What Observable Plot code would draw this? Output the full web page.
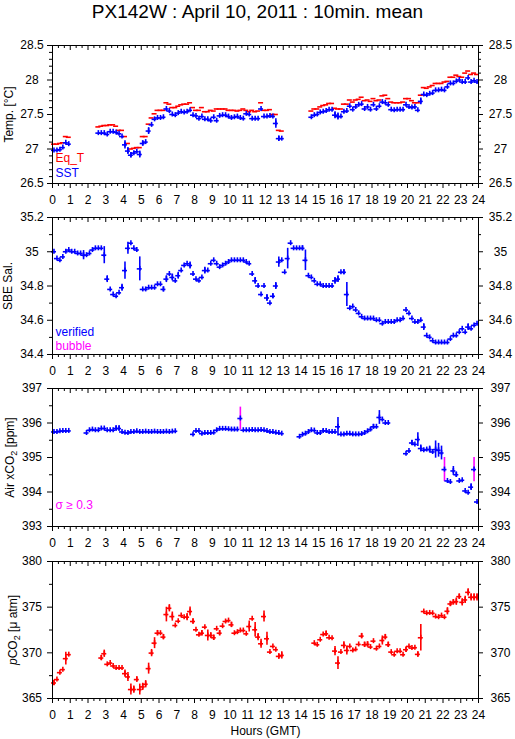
<!DOCTYPE html>
<html><head><meta charset="utf-8">
<script src="https://cdn.jsdelivr.net/npm/d3@7"></script>
<script src="https://cdn.jsdelivr.net/npm/@observablehq/plot@0.6"></script>
<style>
body{margin:0;background:#fff;}
#wrap{position:relative;width:515px;height:739px;background:#fff;overflow:hidden;font-family:"Liberation Sans",Arial,Helvetica,sans-serif}
#title{position:absolute;left:0;top:1px;width:515px;text-align:center;font-size:19px;line-height:22px;color:#000}
.panel{position:absolute;left:0;}
</style></head><body>
<div id="wrap"><div id="title">PX142W : April 10, 2011 : 10min. mean</div></div>
<script>
// ---------- tick labels ----------
const hourTicks = [0,1,2,3,4,5,6,7,8,9,10,11,12,13,14,15,16,17,18,19,20,21,22,23,24];
const tempTicks = [26.5,27,27.5,28,28.5];
const tempMinor = [26.6,26.7,26.8,26.9,27.1,27.2,27.3,27.4,27.6,27.7,27.8,27.9,28.1,28.2,28.3,28.4];
const salTicks = [34.4,34.6,34.8,35,35.2];
const salMinor = [34.5,34.7,34.9,35.1];
const xco2Ticks = [393,394,395,396,397];
const xco2Minor = [393.5,394.5,395.5,396.5];
const pco2Ticks = [365,370,375,380];
const pco2Minor = [367.5,372.5,377.5];

// ---------- 10-minute series (144 slots, null = no data) ----------
const eqT = [27.07,27.07,27.08,27.09,27.18,27.17,
 null,null,null,null,null,null,null,null,null,
 27.32,27.33,27.34,27.34,27.35,27.35,27.33,27.27,27.27,27.18,
 27.08,27.00,27.01,27.02,27.02,27.18,27.18,27.36,27.45,27.51,
 27.56,27.56,27.56,27.67,27.65,27.60,27.60,27.62,27.64,27.65,
 27.65,27.67,27.60,27.56,27.56,27.60,27.54,27.54,27.56,27.55,
 27.58,27.58,27.58,27.58,27.56,27.56,27.56,27.55,27.56,27.58,
 27.56,27.54,27.56,27.54,27.55,27.67,27.56,27.56,27.57,27.50,
 27.50,27.27,27.26,
 null,null,null,null,null,null,null,null,null,
 27.55,27.58,27.58,27.61,27.63,27.64,27.66,27.66,27.59,27.58,
 27.58,27.65,27.65,27.71,27.68,27.71,27.72,27.75,27.70,27.71,
 27.69,27.73,27.70,27.71,27.77,27.78,27.73,27.68,27.67,27.67,
 27.67,27.68,27.73,27.73,27.70,27.67,27.67,27.78,27.89,27.88,
 27.90,27.92,27.95,27.95,27.95,27.97,27.98,28.04,28.04,28.07,
 28.05,28.04,28.10,28.13,28.08,28.10,28.08];

const sst = [26.98,26.98,26.99,27.02,27.09,27.07,
 null,null,null,null,null,null,null,null,null,
 27.23,27.23,27.23,27.21,27.25,27.25,27.24,27.22,27.18,27.06,
 26.97,26.91,26.94,26.96,26.92,27.08,27.10,27.26,27.35,27.43,
 27.45,27.45,27.46,27.58,27.55,27.50,27.49,27.52,27.54,27.53,
 27.54,27.56,27.49,27.48,27.44,27.47,27.43,27.43,27.41,27.46,
 27.41,27.48,27.49,27.49,27.47,27.45,27.46,27.47,27.45,27.44,
 27.51,27.50,27.44,27.44,27.44,27.58,27.47,27.47,27.48,27.47,
 27.37,27.15,27.15,
 null,null,null,null,null,null,null,null,null,
 27.46,27.49,27.50,27.53,27.54,27.55,27.57,27.57,27.49,27.47,
 27.47,27.54,27.55,27.62,27.57,27.61,27.64,27.65,27.58,27.61,
 27.57,27.64,27.58,27.62,27.68,27.67,27.64,27.57,27.56,27.57,
 27.57,27.57,27.64,27.61,27.60,27.61,27.56,27.69,27.79,27.78,
 27.80,27.81,27.85,27.85,27.86,27.85,27.90,27.95,27.95,27.98,
 28.00,27.97,27.97,28.03,27.97,27.99,27.97];
const sstErr = [[24,0.06],[25,0.05],[26,0.04],[29,0.05],[30,0.04],[32,0.05],[75,0.07],[76,0.04],[95,0.05],[96,0.05],[124,0.05]];

const sal = [35.00,34.96,34.95,34.97,35.00,35.01,35.00,35.00,34.99,34.99,34.98,34.98,
 34.99,35.01,35.02,35.02,35.02,34.98,34.84,34.78,34.75,34.74,34.76,34.79,
 34.89,35.02,35.05,35.02,35.01,34.90,34.78,34.78,34.79,34.79,34.79,34.81,
 34.81,34.78,34.84,34.87,34.85,34.83,34.86,34.89,34.92,34.93,34.92,34.87,
 34.84,34.83,34.85,34.89,34.89,34.93,34.95,34.93,34.91,34.92,34.93,34.94,
 34.95,34.95,34.95,34.95,34.95,34.94,34.93,34.87,34.83,34.80,34.75,34.80,
 34.73,34.70,34.74,34.80,34.94,34.95,34.88,34.96,35.05,35.02,35.02,35.02,
 35.02,34.95,34.86,34.85,34.83,34.81,34.81,34.80,34.80,34.80,34.80,34.83,
 34.84,34.88,34.88,34.75,34.67,34.68,34.66,34.64,34.62,34.61,34.61,34.61,
 34.61,34.60,34.60,34.58,34.59,34.59,34.59,34.59,34.60,34.60,34.61,34.66,
 34.64,34.61,34.59,34.59,34.60,34.56,34.51,34.50,34.48,34.47,34.47,34.47,
 34.47,34.47,34.49,34.51,34.51,34.53,34.55,34.53,34.56,34.55,34.57,34.58];
const salErr = [[10,0.027],[17,0.05],[18,0.02],[23,0.02],[24,0.05],[25,0.035],[29,0.07],[37,0.015],[38,0.02],[40,0.02],[42,0.02],[46,0.02],[51,0.02],[68,0.02],[72,0.02],[74,0.015],[75,0.02],[76,0.03],[79,0.06],[84,0.015],[85,0.06],[95,0.02],[96,0.02],[98,0.015],[99,0.07],[125,0.02],[140,0.02]];

const xco2 = [395.74,395.74,395.76,395.77,395.77,395.77,null,null,null,null,null,395.71,
 395.79,395.81,395.79,395.79,395.84,395.84,395.79,395.79,395.79,395.84,395.84,395.74,
 395.72,395.71,395.74,395.74,395.76,395.74,395.74,395.75,395.74,395.74,395.75,395.74,
 395.74,395.74,395.75,395.74,395.75,395.76,null,null,null,null,null,395.67,
 395.77,395.77,395.69,395.71,395.71,395.71,395.72,395.79,395.83,395.83,395.83,395.82,
 395.81,395.81,395.81,396.13,395.79,395.79,395.79,395.80,395.79,395.79,395.80,395.79,
 395.77,395.74,395.74,395.72,395.71,395.69,null,null,null,null,null,395.60,
 395.66,395.69,395.74,395.79,395.78,395.71,395.71,395.77,395.77,395.74,395.74,395.74,
 395.89,395.67,395.67,395.69,395.69,395.67,395.67,395.67,395.68,395.71,395.76,395.81,
 395.89,395.89,396.16,396.10,396.00,396.00,null,null,null,null,null,395.11,
 395.19,395.42,395.38,395.52,395.26,395.21,395.23,395.23,395.16,395.23,395.21,395.13,
 394.65,394.32,394.29,394.61,394.50,394.32,394.34,394.03,393.98,394.14,394.65,393.71];
const xco2Err = [[21,0.08],[22,0.08],[91,0.05],[96,0.27],[107,0.05],[108,0.07],[110,0.2],[121,0.08],[123,0.2],[124,0.1],[127,0.1],[129,0.25],[130,0.2],[131,0.2],[135,0.13],[136,0.08],[141,0.1]];
const xco2Flag = [[63,0.33],[132,0.35],[142,0.35]]; // sigma >= 0.3

const pco2 = [366.70,367.07,367.83,368.16,369.36,369.80,null,null,null,null,null,null,
 null,null,null,null,369.43,369.90,368.74,368.88,368.56,368.34,368.34,368.34,
 367.72,367.36,365.98,365.98,367.07,365.98,366.27,366.56,368.27,369.97,371.06,372.15,
 372.15,371.72,374.19,374.88,373.97,372.99,373.46,374.08,373.90,373.90,374.52,373.43,
 372.52,371.97,372.15,372.81,371.90,371.90,371.65,372.63,372.15,372.92,373.43,373.53,
 373.06,372.15,372.26,372.44,372.44,372.08,372.88,373.72,372.52,371.72,370.99,373.97,
 371.54,370.08,370.70,370.34,369.61,369.72,null,null,null,null,null,null,
 null,null,null,null,371.06,370.88,371.43,372.00,372.08,371.65,371.61,370.19,
 368.88,370.08,370.81,370.26,370.70,370.26,370.37,370.92,371.83,370.88,370.92,370.63,
 371.28,370.45,370.70,371.35,371.72,370.88,370.08,369.79,370.16,370.16,369.79,370.34,
 370.70,370.52,370.56,369.83,371.65,374.52,374.33,374.37,374.33,373.97,373.90,374.08,
 373.90,374.55,375.35,375.53,375.60,376.15,375.53,375.79,376.62,376.08,376.08,376.08];
const pco2Err = [[0,.3],[4,.7],[16,.3],[17,.4],[24,.4],[25,.5],[26,.6],[27,.4],[28,.3],[29,.6],[30,.4],[31,.4],[32,.6],[33,.4],[34,.6],[35,.3],[37,.3],[38,.8],[39,.4],[40,.5],[45,.4],[46,.5],[47,.3],[50,.3],[52,.6],[53,.3],[54,.3],[56,.3],[60,.3],[66,.6],[68,.8],[69,.4],[70,.5],[71,.6],[72,.7],[76,.3],[77,.4],[92,.3],[95,.5],[96,.7],[98,.4],[99,.5],[104,.3],[105,.3],[106,.3],[111,.5],[112,.3],[113,.3],[119,.3],[123,.3],[124,1.45],[133,.4],[134,.3],[135,.3],[136,.4],[137,.3],[138,.4],[139,.4],[140,.4],[141,.4],[142,.4],[143,.4]];

// ---------- helpers ----------
const FONT = '"Liberation Sans", Arial, Helvetica, sans-serif';
const BLUE = "#0000ff", RED = "#ff0000", MAGENTA = "#ff00ff";
const slotHour = i => (i + 0.5) / 6;
const minorHours = d3.range(0, 72).map(k => k / 3).filter(h => h % 1 !== 0);
const rowsOf = vals => vals.map((v, i) => ({t: slotHour(i), v})).filter(d => d.v != null);
const errRows = (vals, errs) => errs.map(([i, e]) => ({t: slotHour(i), v: vals[i], e}));

const HALF = 2.5, SW = 1.6;
function hbar(rows, color) {
  return Plot.ruleY(rows, {x1: "t", x2: "t", y: "v", insetLeft: -HALF, insetRight: -HALF, stroke: color, strokeWidth: SW});
}
function vbar(rows, color) {
  return Plot.ruleX(rows, {x: "t", y1: "v", y2: "v", insetTop: -HALF, insetBottom: -HALF, stroke: color, strokeWidth: SW});
}
function ebar(rows, color) {
  return Plot.ruleX(rows, {x: "t", y1: d => d.v - d.e, y2: d => d.v + d.e, stroke: color, strokeWidth: SW});
}
function cross(rows, color) { return [hbar(rows, color), vbar(rows, color)]; }

function panel({top, frameH, yDomain, yTicks, yMinor, yFmt, yLabel, labelDx, marks, legend = [], extra = [], mb = 32}) {
  const mt = 8;
  const [y0, y1] = yDomain;
  const svg = Plot.plot({
    width: 515, height: mt + frameH + mb,
    marginLeft: 52, marginRight: 37, marginTop: mt, marginBottom: mb,
    style: {fontFamily: FONT, fontSize: "12px", background: "transparent", overflow: "visible", color: "black"},
    x: {domain: [0, 24], axis: null},
    y: {domain: yDomain, axis: null},
    marks: [
      ...marks,
      Plot.frame({stroke: "black", strokeWidth: 1}),
      // x ticks: bottom outward, top inward
      Plot.ruleX(hourTicks, {x: d => d, y1: () => y0, y2: () => y0, insetBottom: -5, stroke: "black"}),
      Plot.ruleX(minorHours, {x: d => d, y1: () => y0, y2: () => y0, insetBottom: -3, stroke: "black"}),
      Plot.ruleX(hourTicks, {x: d => d, y1: () => y1, y2: () => y1, insetBottom: -5, stroke: "black"}),
      Plot.ruleX(minorHours, {x: d => d, y1: () => y1, y2: () => y1, insetBottom: -3, stroke: "black"}),
      // y ticks: outward both sides
      Plot.ruleY(yTicks, {y: d => d, x1: () => 0, x2: () => 0, insetLeft: -5, stroke: "black"}),
      Plot.ruleY(yMinor, {y: d => d, x1: () => 0, x2: () => 0, insetLeft: -3, stroke: "black"}),
      Plot.ruleY(yTicks, {y: d => d, x1: () => 24, x2: () => 24, insetRight: -5, stroke: "black"}),
      Plot.ruleY(yMinor, {y: d => d, x1: () => 24, x2: () => 24, insetRight: -3, stroke: "black"}),
      // labels
      Plot.text(hourTicks, {x: d => d, text: d => String(d), frameAnchor: "bottom", dy: 17, lineAnchor: "middle", fill: "black"}),
      Plot.text(yTicks, {y: d => d, text: yFmt, frameAnchor: "left", dx: -20.5, textAnchor: "middle", fill: "black"}),
      Plot.text(yTicks, {y: d => d, text: yFmt, frameAnchor: "right", dx: 22, textAnchor: "middle", fill: "black"}),
      Plot.text([yLabel], {text: d => d, frameAnchor: "left", rotate: -90, dx: labelDx, textAnchor: "middle", fill: "black"}),
      ...legend.map(([s, c, dy]) => Plot.text([s], {text: d => d, frameAnchor: "bottom-left", dx: 3, dy, textAnchor: "start", lineAnchor: "middle", fill: c})),
      ...extra
    ]
  });
  svg.classList.add("panel");
  svg.style.top = (top - mt) + "px";
  document.getElementById("wrap").appendChild(svg);
  return svg;
}

function richText(svg, plain, parts) {
  for (const t of svg.querySelectorAll("text")) {
    if (t.textContent === plain) {
      t.textContent = "";
      for (const p of parts) {
        const s = document.createElementNS("http://www.w3.org/2000/svg", "tspan");
        s.textContent = p.s;
        if (p.italic) s.setAttribute("font-style", "italic");
        if (p.sub) { s.setAttribute("font-size", "9"); s.setAttribute("dy", "3"); }
        if (p.up) s.setAttribute("dy", "-3");
        t.appendChild(s);
      }
    }
  }
}

const f1 = d => d % 1 === 0 ? String(d) : d.toFixed(1);

// Panel 1: temperature
panel({
  top: 45, frameH: 138, yDomain: [26.5, 28.5], yTicks: tempTicks, yMinor: tempMinor, yFmt: f1,
  yLabel: "Temp. [°C]", labelDx: -43.5,
  marks: [
    hbar(rowsOf(eqT), RED),
    ebar(errRows(sst, sstErr), BLUE),
    ...cross(rowsOf(sst), BLUE)
  ],
  legend: [["Eq_T", RED, -25], ["SST", BLUE, -10.5]]
});

// Panel 2: salinity
panel({
  top: 217, frameH: 137, yDomain: [34.4, 35.2], yTicks: salTicks, yMinor: salMinor, yFmt: f1,
  yLabel: "SBE Sal.", labelDx: -44,
  marks: [
    ebar(errRows(sal, salErr), BLUE),
    ...cross(rowsOf(sal), BLUE)
  ],
  legend: [["verified", BLUE, -22], ["bubble", MAGENTA, -8]]
});

// Panel 3: air xCO2
const s3 = panel({
  top: 388, frameH: 138, yDomain: [393, 397], yTicks: xco2Ticks, yMinor: xco2Minor, yFmt: d => String(d),
  yLabel: "Air xCO2 [ppm]", labelDx: -42,
  marks: [
    ebar(errRows(xco2, xco2Err), BLUE),
    ebar(errRows(xco2, xco2Flag), MAGENTA),
    ...cross(rowsOf(xco2), BLUE)
  ],
  legend: [["σ ≥ 0.3", MAGENTA, -21.5]]
});
richText(s3, "Air xCO2 [ppm]", [{s: "Air xCO"}, {s: "2", sub: true}, {s: " [ppm]", up: true}]);

// Panel 4: pCO2
const s4 = panel({
  top: 561, frameH: 137, yDomain: [365, 380], yTicks: pco2Ticks, yMinor: pco2Minor, yFmt: d => String(d),
  yLabel: "pCO2 [μ atm]", labelDx: -39.5, mb: 42,
  marks: [
    ebar(errRows(pco2, pco2Err), RED),
    ...cross(rowsOf(pco2), RED)
  ],
  extra: [Plot.text(["Hours (GMT)"], {text: d => d, frameAnchor: "bottom", dy: 33, lineAnchor: "middle", fill: "black"})]
});
richText(s4, "pCO2 [μ atm]", [{s: "p", italic: true}, {s: "CO"}, {s: "2", sub: true}, {s: " [μ atm]", up: true}]);
</script>
</body></html>
